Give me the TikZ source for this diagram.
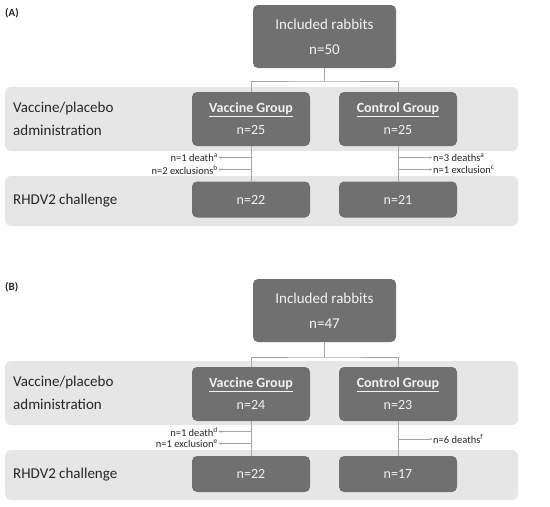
\documentclass[tikz,border=0pt]{standalone}
\usepackage{fontspec}
\setmainfont{Carlito}
\usetikzlibrary{arrows.meta}
\definecolor{boxgray}{RGB}{112,112,112}
\definecolor{bandgray}{RGB}{230,230,230}
\definecolor{linegray}{RGB}{165,165,165}
\definecolor{boxtext}{RGB}{242,242,242}
\definecolor{labtext}{RGB}{38,38,38}
\begin{document}
\begin{tikzpicture}[x=1pt,y=-1pt,
  band/.style={fill=bandgray,rounded corners=6pt,minimum width=513pt,inner sep=0pt},
  box/.style={fill=boxgray,rounded corners=5pt,text=boxtext,minimum width=118pt,inner sep=0pt,align=center},
  topbox/.style={box,minimum width=143pt,minimum height=63pt,font=\fontsize{15}{25}\selectfont},
  grpbox/.style={box,minimum height=54pt,font=\fontsize{14}{22}\selectfont},
  endbox/.style={box,minimum height=36pt,font=\fontsize{14}{17}\selectfont},
  phase/.style={anchor=west,inner sep=0pt,align=left,text=labtext,font=\fontsize{15}{23}\selectfont},
  note/.style={inner sep=0.5pt,text=labtext,font=\fontsize{10.5}{11}\selectfont},
  conn/.style={draw=linegray,line width=0.8pt},
  arr/.style={conn,-{Stealth[length=3pt,width=2.5pt]}},
  panel/.style={anchor=west,inner sep=0pt,text=labtext,font=\bfseries\fontsize{11}{13}\selectfont}]
\useasboundingbox (0,0) rectangle (550,507);

% panel A
\node[panel] (labA) at (5,13) {(A)};
\node[band,minimum height=64pt] (bandA1) at (261.5,119) {};
\node[band,minimum height=50pt] (bandA2) at (261.5,201) {};
\node[phase] (phA1) at (13,118.5) {Vaccine/placebo\\administration};
\node[phase] (phA2) at (13,201) {RHDV2 challenge};
\node[topbox] (topA) at (324.5,36.5) {Included rabbits\\n=50};
\node[grpbox] (vacA) at (251,119) {\textbf{\underline{Vaccine Group}}\\n=25};
\node[grpbox] (conA) at (398,119) {\textbf{\underline{Control Group}}\\n=25};
\node[endbox] (vacA2) at (251,199.5) {n=22};
\node[endbox] (conA2) at (398,199.5) {n=21};
\coordinate (splitA) at (324.5,81);
\draw[conn] (topA.south) -- (splitA);
\draw[conn] (vacA.north) |- (splitA) -| (conA.north);
\draw[conn] (vacA.south) -- (vacA2.north);
\draw[conn] (conA.south) -- (conA2.north);
\node[note,anchor=east] (nA1) at (218.5,157.5) {n=1 death\textsuperscript{a}};
\node[note,anchor=east] (nA2) at (218.5,169.5) {n=2 exclusions\textsuperscript{b}};
\node[note,anchor=west] (nA3) at (432.5,157.5) {n=3 deaths\textsuperscript{a}};
\node[note,anchor=west] (nA4) at (432.5,169.5) {n=1 exclusion\textsuperscript{c}};
\draw[arr] (vacA.south |- nA1) -- (nA1);
\draw[arr] (vacA.south |- nA2) -- (nA2);
\draw[arr] (conA.south |- nA3) -- (nA3);
\draw[arr] (conA.south |- nA4) -- (nA4);

% panel B
\node[panel] (labB) at (5,287) {(B)};
\node[band,minimum height=64pt] (bandB1) at (261.5,393) {};
\node[band,minimum height=50pt] (bandB2) at (261.5,475) {};
\node[phase] (phB1) at (13,392.5) {Vaccine/placebo\\administration};
\node[phase] (phB2) at (13,475) {RHDV2 challenge};
\node[topbox] (topB) at (324.5,310.5) {Included rabbits\\n=47};
\node[grpbox] (vacB) at (251,394) {\textbf{\underline{Vaccine Group}}\\n=24};
\node[grpbox] (conB) at (398,394) {\textbf{\underline{Control Group}}\\n=23};
\node[endbox] (vacB2) at (251,474) {n=22};
\node[endbox] (conB2) at (398,474) {n=17};
\coordinate (splitB) at (324.5,357);
\draw[conn] (topB.south) -- (splitB);
\draw[conn] (vacB.north) |- (splitB) -| (conB.north);
\draw[conn] (vacB.south) -- (vacB2.north);
\draw[conn] (conB.south) -- (conB2.north);
\node[note,anchor=east] (nB1) at (218.5,431.5) {n=1 death\textsuperscript{d}};
\node[note,anchor=east] (nB2) at (218.5,443.5) {n=1 exclusion\textsuperscript{e}};
\node[note,anchor=west] (nB3) at (432.5,439) {n=6 deaths\textsuperscript{f}};
\draw[arr] (vacB.south |- nB1) -- (nB1);
\draw[arr] (vacB.south |- nB2) -- (nB2);
\draw[arr] (conB.south |- nB3) -- (nB3);
\end{tikzpicture}
\end{document}
